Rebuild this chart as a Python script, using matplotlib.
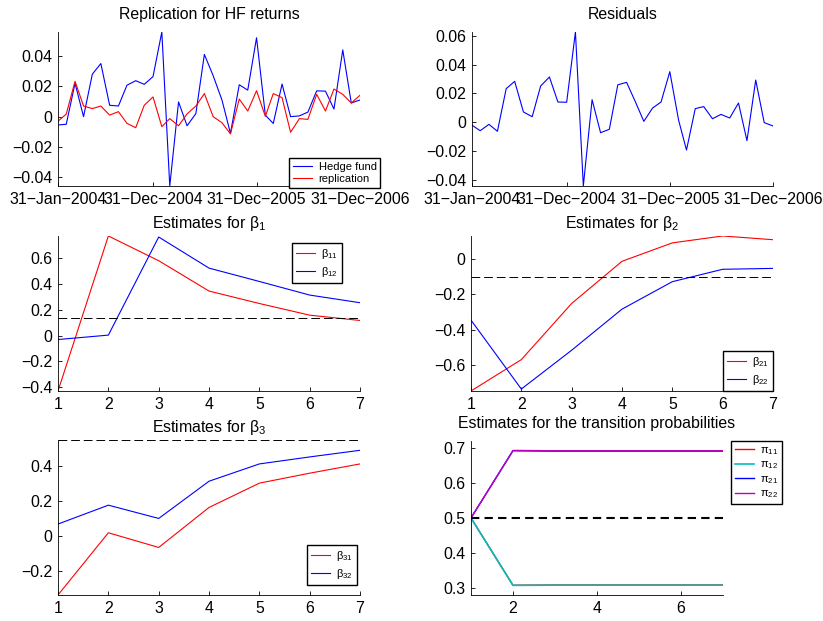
import matplotlib
matplotlib.use('Agg')
import matplotlib.pyplot as plt
import numpy as np
import pandas as pd
from matplotlib.ticker import MultipleLocator, FuncFormatter

plt.rcParams['font.family'] = ['Liberation Sans', 'DejaVu Sans']
plt.rcParams['font.size'] = 11.4
plt.rcParams['mathtext.fontset'] = 'custom'
plt.rcParams['mathtext.rm'] = 'Liberation Sans'
plt.rcParams['mathtext.default'] = 'regular'

# monthly returns, Jan 2004 - Dec 2006
dates = pd.date_range('2004-01-31', periods=36, freq='ME')
hedge_fund = [-0.0055, -0.005, 0.022, 0.0, 0.028, 0.035, 0.0075, 0.007, 0.0207, 0.0237,
              0.0213, 0.0264, 0.0558, -0.0457, 0.0097, -0.006, 0.002, 0.041, 0.027, 0.011,
              -0.011, 0.021, 0.0175, 0.052, 0.001, -0.0045, 0.0215, 0.0, 0.0005, 0.003,
              0.017, 0.0168, 0.005, 0.044, 0.009, 0.011]
replication = [-0.003, 0.0017, 0.0233, 0.007, 0.0053, 0.007, 0.001, 0.0033, -0.0044, -0.0073,
               0.0075, 0.013, -0.0066, -0.0013, -0.006, 0.0018, 0.007, 0.0152, 0.0, -0.004,
               -0.0114, 0.0116, 0.0037, 0.0171, 0.0002, 0.0152, 0.0125, -0.0103, -0.0013, -0.0018,
               0.0147, 0.0037, 0.0182, 0.0147, 0.009, 0.0141]
residuals = [-0.002, -0.0058, -0.0014, -0.0062, 0.0233, 0.0284, 0.0072, 0.0039, 0.0252, 0.0314,
             0.0141, 0.0139, 0.0626, -0.0441, 0.0157, -0.0072, -0.0048, 0.026, 0.0277, 0.0143,
             0.0007, 0.0099, 0.0141, 0.0351, 0.0016, -0.0192, 0.0095, 0.0109, 0.0025, 0.0055,
             0.003, 0.0134, -0.0127, 0.0293, -0.0002, -0.0025]
date_ticks = pd.to_datetime(['2004-01-31', '2004-12-31', '2005-12-31', '2006-12-31'])
date_labels = ['31\u2212Jan\u22122004', '31\u2212Dec\u22122004', '31\u2212Dec\u22122005', '31\u2212Dec\u22122006']

# estimates over 7 steps
steps = [1, 2, 3, 4, 5, 6, 7]
beta11 = [-0.428, 0.768, 0.577, 0.343, 0.247, 0.157, 0.116]
beta12 = [-0.031, 0.003, 0.76, 0.52, 0.417, 0.312, 0.253]
beta1_true = 0.134
beta21 = [-0.745, -0.568, -0.251, -0.013, 0.091, 0.13, 0.109]
beta22 = [-0.345, -0.734, -0.515, -0.283, -0.128, -0.058, -0.053]
beta2_true = -0.102
beta31 = [-0.337, 0.019, -0.065, 0.164, 0.303, 0.36, 0.413]
beta32 = [0.069, 0.177, 0.101, 0.314, 0.413, 0.453, 0.491]
beta3_true = 0.55
pi11 = [0.5, 0.3078, 0.3086, 0.3086, 0.3086, 0.3086, 0.3086]
pi12 = [0.5, 0.3075, 0.308, 0.308, 0.308, 0.308, 0.308]
pi21 = [0.5, 0.692, 0.691, 0.691, 0.691, 0.691, 0.691]
pi22 = [0.5, 0.693, 0.692, 0.692, 0.692, 0.692, 0.692]
pi_true = 0.5


def num_fmt(v, pos):
    s = '%g' % round(v, 10)
    if s == '-0':
        s = '0'
    return s.replace('-', '\u2212')


def matlab_style(ax):
    ax.spines['top'].set_visible(False)
    ax.spines['right'].set_visible(False)
    for s in ('left', 'bottom'):
        ax.spines[s].set_linewidth(0.6)
    ax.tick_params(direction='in', length=3, width=0.6, pad=4, labelsize=11.4)
    ax.yaxis.set_major_formatter(FuncFormatter(num_fmt))


def legend_box(ax, spacing=0.4, **kw):
    leg = ax.legend(fontsize=8, frameon=True, fancybox=False, framealpha=1,
                    edgecolor='black', handlelength=1.7, handletextpad=0.6,
                    borderpad=0.35, labelspacing=spacing, borderaxespad=0, **kw)
    leg.get_frame().set_linewidth(1.0)
    return leg


fig = plt.figure(figsize=(8.23, 6.21), dpi=100)
lw = 0.8

# Replication for HF returns
ax = fig.add_axes([0.0705, 0.7005, 0.367, 0.248])
ax.plot(dates, hedge_fund, color='b', lw=lw, label='Hedge fund')
ax.plot(dates, replication, color='r', lw=lw, label='replication')
ax.set_xlim(dates[0], dates[-1])
ax.set_ylim(min(hedge_fund + replication), max(hedge_fund + replication))
ax.yaxis.set_major_locator(MultipleLocator(0.02))
ax.set_xticks(date_ticks)
ax.set_xticklabels(date_labels)
matlab_style(ax)
ax.set_title('Replication for HF returns', fontsize=11.4, pad=9)
legend_box(ax, spacing=0.2, loc='upper left', bbox_to_anchor=(0.765, 0.182))

# Residuals
ax = fig.add_axes([0.5735, 0.7005, 0.3657, 0.248])
ax.plot(dates, residuals, color='b', lw=lw)
ax.set_xlim(dates[0], dates[-1])
ax.set_ylim(min(residuals), max(residuals))
ax.yaxis.set_major_locator(MultipleLocator(0.02))
ax.set_xticks(date_ticks)
ax.set_xticklabels(date_labels)
matlab_style(ax)
ax.set_title('Residuals', fontsize=11.4, pad=9)

# Estimates for beta_1
ax = fig.add_axes([0.0705, 0.3704, 0.367, 0.2496])
ax.plot(steps, beta11, color='r', lw=lw, label='\u03b2$_{11}$')
ax.plot(steps, beta12, color='b', lw=lw, label='\u03b2$_{12}$')
ax.axhline(beta1_true, color='k', lw=0.7, ls=(0, (9, 4)))
ax.set_xlim(1, 7)
ax.set_ylim(min(beta11 + beta12 + [beta1_true]), max(beta11 + beta12 + [beta1_true]))
ax.xaxis.set_major_locator(MultipleLocator(1))
ax.yaxis.set_major_locator(MultipleLocator(0.2))
matlab_style(ax)
ax.set_title('Estimates for \u03b2$_1$', fontsize=11.4, pad=6)
legend_box(ax, loc='upper right', bbox_to_anchor=(0.94, 0.955))

# Estimates for beta_2
ax = fig.add_axes([0.5723, 0.3704, 0.3669, 0.2496])
ax.plot(steps, beta21, color='r', lw=lw, label='\u03b2$_{21}$')
ax.plot(steps, beta22, color='b', lw=lw, label='\u03b2$_{22}$')
ax.axhline(beta2_true, color='k', lw=0.7, ls=(0, (9, 4)))
ax.set_xlim(1, 7)
ax.set_ylim(min(beta21 + beta22 + [beta2_true]), max(beta21 + beta22 + [beta2_true]))
ax.xaxis.set_major_locator(MultipleLocator(1))
ax.yaxis.set_major_locator(MultipleLocator(0.2))
matlab_style(ax)
ax.set_title('Estimates for \u03b2$_2$', fontsize=11.4, pad=6)
legend_box(ax, loc='lower right', bbox_to_anchor=(1.0, 0.0))

# Estimates for beta_3
ax = fig.add_axes([0.0705, 0.0419, 0.367, 0.2496])
ax.plot(steps, beta31, color='r', lw=lw, label='\u03b2$_{31}$')
ax.plot(steps, beta32, color='b', lw=lw, label='\u03b2$_{32}$')
ax.axhline(beta3_true, color='k', lw=0.7, ls=(0, (9, 4)))
ax.set_xlim(1, 7)
ax.set_ylim(min(beta31 + beta32 + [beta3_true]), max(beta31 + beta32 + [beta3_true]))
ax.xaxis.set_major_locator(MultipleLocator(1))
ax.yaxis.set_major_locator(MultipleLocator(0.2))
matlab_style(ax)
ax.set_title('Estimates for \u03b2$_3$', fontsize=11.4, pad=6)
legend_box(ax, loc='lower right', bbox_to_anchor=(0.99, 0.065))

# Transition probabilities
ax = fig.add_axes([0.5723, 0.0419, 0.306, 0.248])
ax.plot(steps, pi11, color='r', lw=1.0, label='\u03c0$_{11}$')
ax.plot(steps, pi12, color='c', lw=1.2, label='\u03c0$_{12}$')
ax.plot(steps, pi21, color='b', lw=1.0, label='\u03c0$_{21}$')
ax.plot(steps, pi22, color='m', lw=1.0, label='\u03c0$_{22}$')
ax.axhline(pi_true, color='k', lw=1.5, ls=(0, (4, 2.5)))
ax.set_xlim(1, 7)
ax.set_ylim(0.28, 0.72)
ax.xaxis.set_major_locator(MultipleLocator(2))
ax.yaxis.set_major_locator(MultipleLocator(0.1))
matlab_style(ax)
ax.set_title('Estimates for the transition probabilities', fontsize=11.4, pad=9)
legend_box(ax, spacing=0.25, loc='upper left', bbox_to_anchor=(1.032, 1.0))

fig.savefig('out.png', dpi=100)
